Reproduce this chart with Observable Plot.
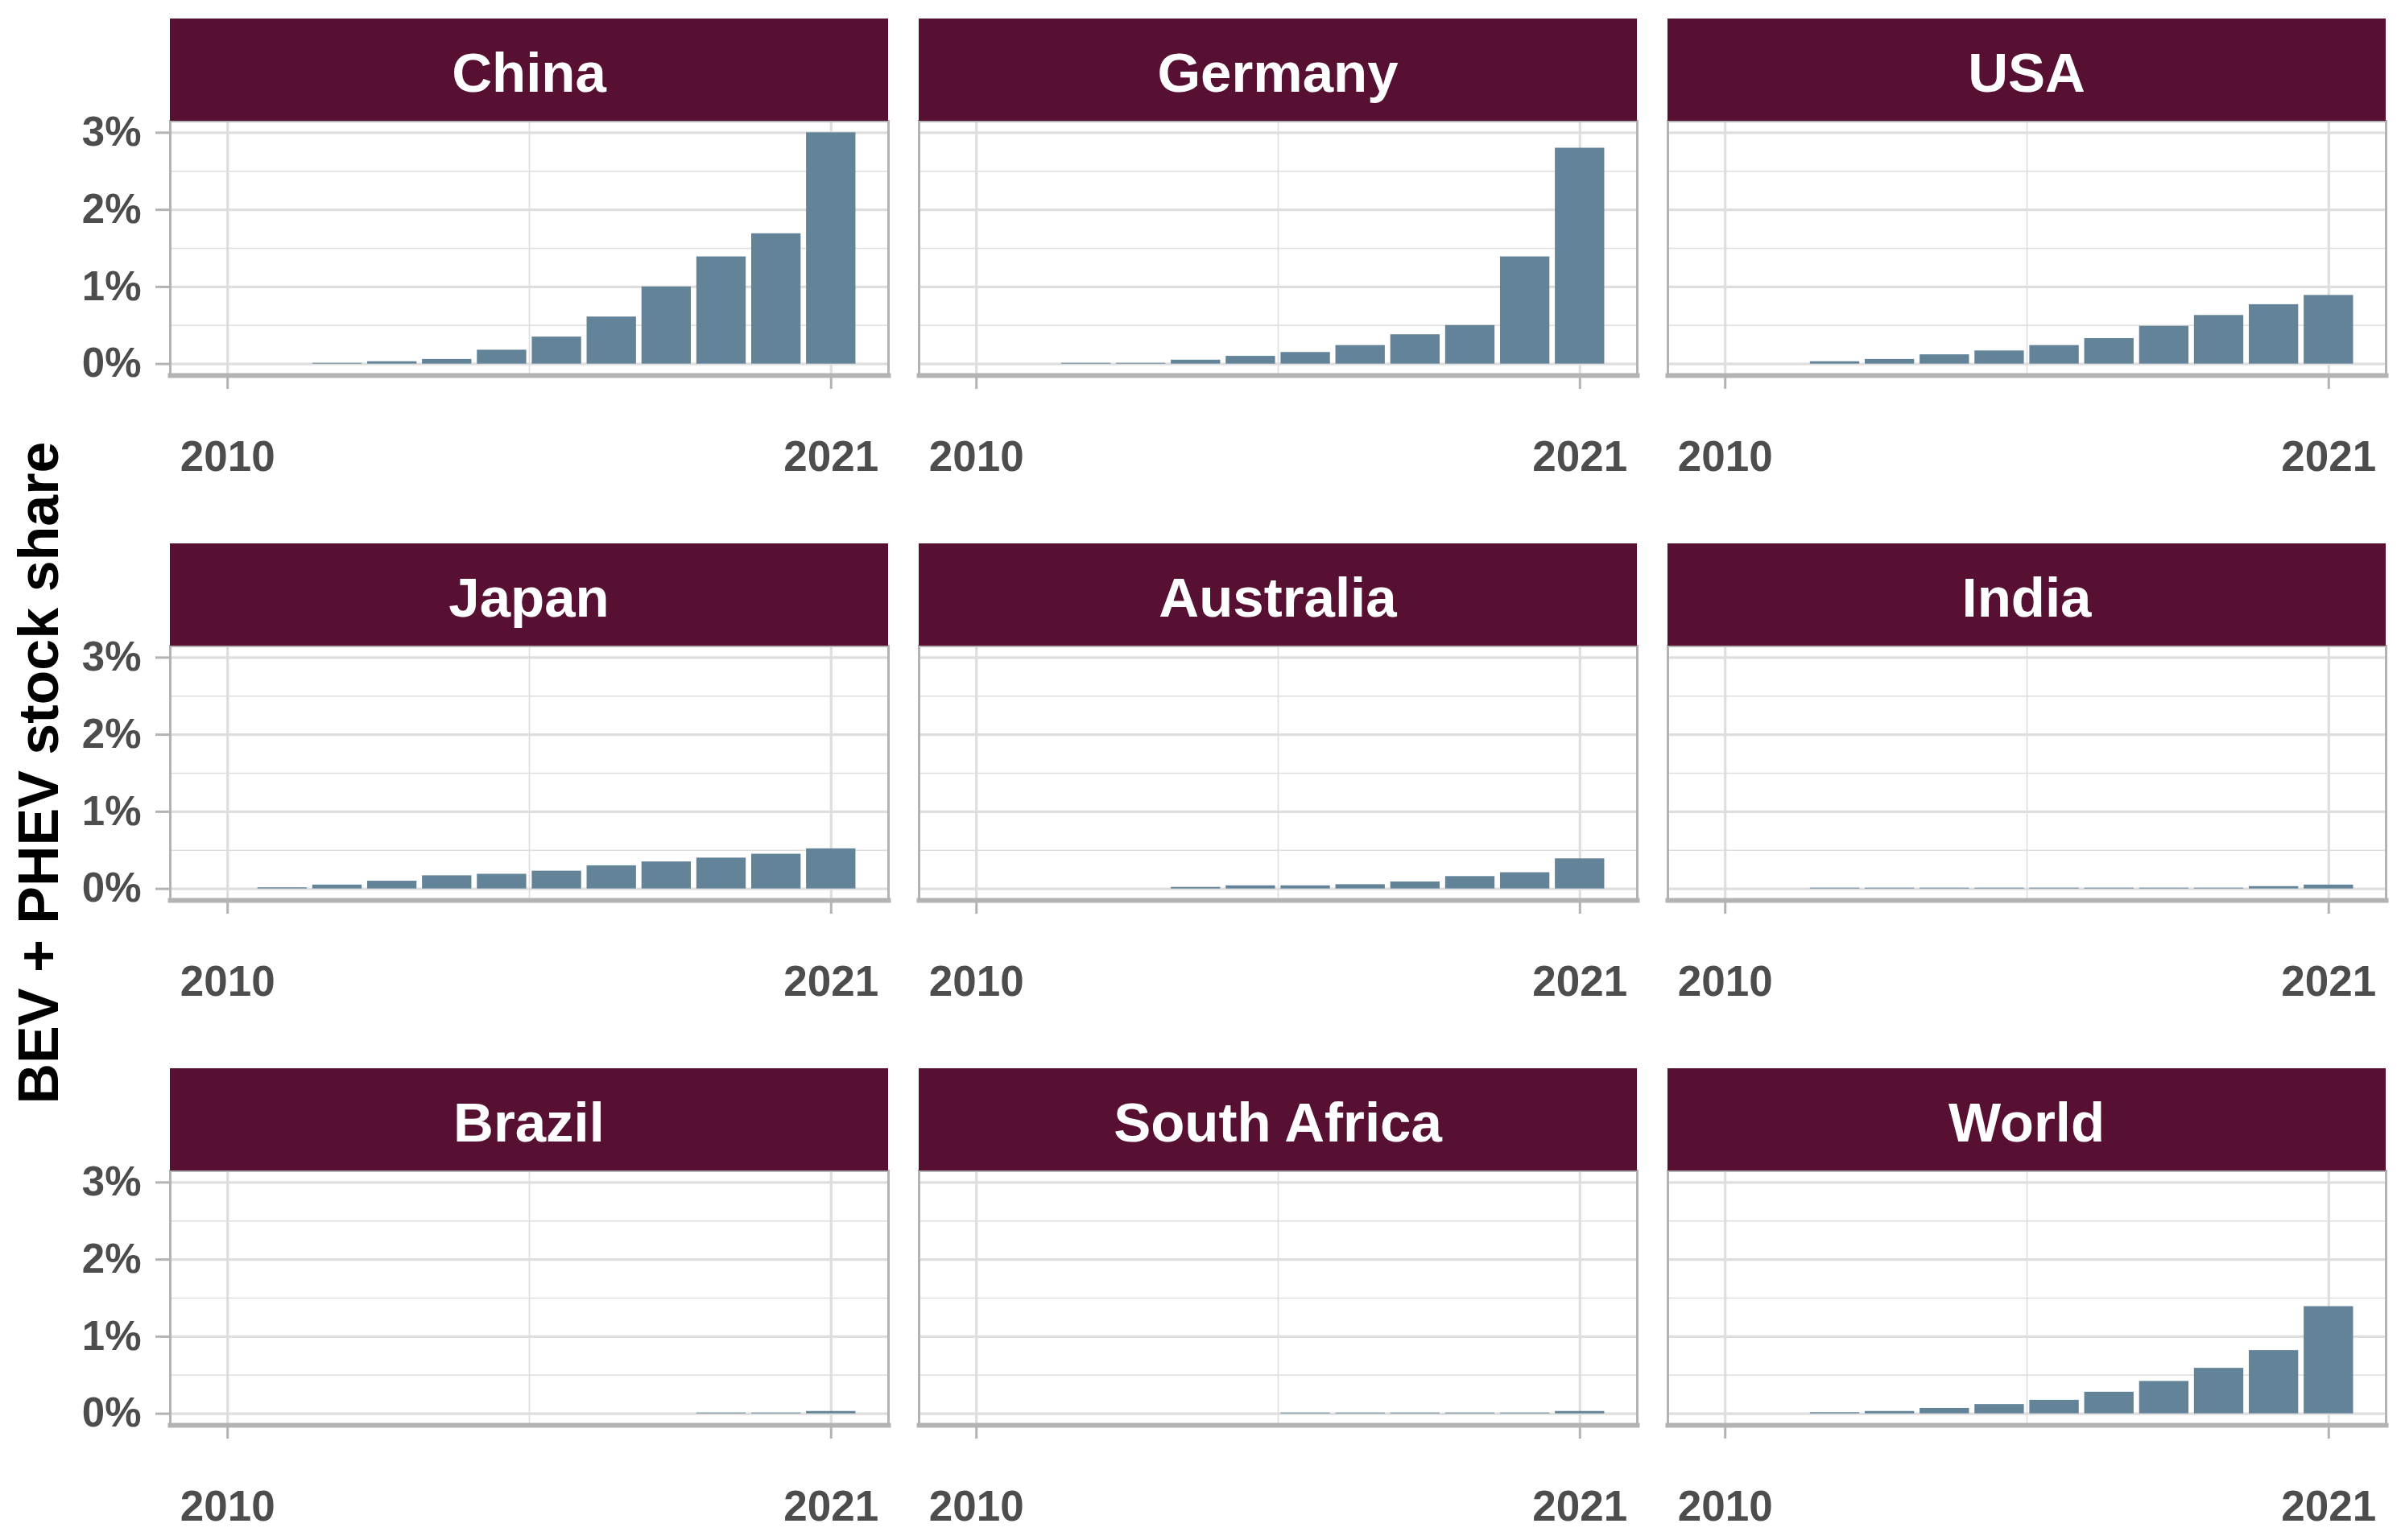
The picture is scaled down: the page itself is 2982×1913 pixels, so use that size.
<!DOCTYPE html>
<html><head><meta charset="utf-8">
<script src="https://cdn.jsdelivr.net/npm/d3@7"></script>
<script src="https://cdn.jsdelivr.net/npm/@observablehq/plot@0.6"></script>
<style>
html,body{margin:0;padding:0;background:#fff;}
#chart{position:relative;width:2982px;height:1913px;font-family:"Liberation Sans",Arial,sans-serif;overflow:hidden;}
.strip{position:absolute;background:#570f32;color:#fff;font-weight:bold;font-size:69px;display:flex;align-items:center;justify-content:center;box-sizing:border-box;padding-top:7px;}
.panel{position:absolute;}
.ytitle{position:absolute;width:1000px;height:70px;line-height:70px;font-size:70px;font-weight:bold;color:#000;text-align:center;transform:rotate(-90deg);transform-origin:50% 50%;white-space:nowrap;}
</style></head><body><div id="chart"></div>
<script>
const years = [2010, 2011, 2012, 2013, 2014, 2015, 2016, 2017, 2018, 2019, 2020, 2021];
const countries = ["China", "Germany", "USA", "Japan", "Australia", "India", "Brazil", "South Africa", "World"];
const china       = [0, 0, 0.01, 0.03, 0.06, 0.18, 0.35, 0.61, 1.00, 1.39, 1.69, 3.00];
const germany     = [0, 0, 0.01, 0.01, 0.05, 0.10, 0.15, 0.24, 0.38, 0.50, 1.39, 2.80];
const usa         = [0, 0, 0.03, 0.06, 0.12, 0.17, 0.24, 0.33, 0.49, 0.63, 0.77, 0.89];
const japan       = [0, 0.014, 0.05, 0.10, 0.17, 0.19, 0.23, 0.30, 0.35, 0.40, 0.45, 0.52];
const australia   = [0, 0, 0, 0, 0.02, 0.04, 0.04, 0.055, 0.09, 0.16, 0.21, 0.39];
const india       = [0, 0, 0.01, 0.01, 0.01, 0.01, 0.01, 0.01, 0.01, 0.01, 0.03, 0.05];
const brazil      = [0, 0, 0, 0, 0, 0, 0, 0, 0, 0.01, 0.01, 0.03];
const southAfrica = [0, 0, 0, 0, 0, 0, 0.01, 0.01, 0.01, 0.01, 0.01, 0.03];
const world       = [0, 0, 0.014, 0.03, 0.07, 0.12, 0.175, 0.28, 0.42, 0.59, 0.82, 1.39];
const seriesValues = [china, germany, usa, japan, australia, india, brazil, southAfrica, world];

const xTicks = [2010, 2021];
const xMinorTicks = [2015.5];
const yTicks = [0, 1, 2, 3];
const yMinorTicks = [0.5, 1.5, 2.5];
const axisTitle = "BEV + PHEV stock share";

const barColor = "#628398";
const gridColor = "#dedede";
const borderColor = "#b3b3b3";
const tickTextColor = "#4d4d4d";
const barWidth = 0.9;

const panelW = 892, panelH = 316, stripH = 127;
const colX = [211, 1141, 2071];
const rowTop = [23, 675, 1327];

// ggplot-like 5% expansion
const xlo = d3.min(years) - barWidth / 2, xhi = d3.max(years) + barWidth / 2;
const xpad = (xhi - xlo) * 0.05;
const ymax = d3.max(seriesValues.flat());
const ypad = ymax * 0.05;

const chart = document.getElementById("chart");

countries.forEach((name, i) => {
  const r = Math.floor(i / 3), c = i % 3;
  const rows = years.map((year, k) => ({year, value: seriesValues[i][k]}));
  const mL = c === 0 ? 211 : 30, mR = 30, mT = 10, mB = 150;
  const marks = [
    Plot.gridY(yMinorTicks, {stroke: gridColor, strokeOpacity: 1, strokeWidth: 1.6}),
    Plot.gridX(xMinorTicks, {stroke: gridColor, strokeOpacity: 1, strokeWidth: 1.6}),
    Plot.gridY(yTicks, {stroke: gridColor, strokeOpacity: 1, strokeWidth: 3.2}),
    Plot.gridX(xTicks, {stroke: gridColor, strokeOpacity: 1, strokeWidth: 3.2}),
    Plot.rectY(rows, {x1: d => d.year - barWidth / 2, x2: d => d.year + barWidth / 2, y: "value", fill: barColor}),
    Plot.frame({stroke: borderColor, strokeWidth: 3}),
    Plot.frame({anchor: "bottom", stroke: borderColor, strokeWidth: 6}),
    Plot.axisX(xTicks, {tickSize: 17, tickPadding: 64, tickFormat: d => String(d), fontSize: 53, fontWeight: "bold", fill: tickTextColor, stroke: borderColor, strokeWidth: 3, label: null})
  ];
  if (c === 0) {
    marks.push(Plot.axisY(yTicks, {tickSize: 18, tickPadding: 18, tickFormat: d => d + "%", fontSize: 51, fontWeight: "bold", fill: tickTextColor, stroke: borderColor, strokeWidth: 3, label: null}));
  }
  const svg = Plot.plot({
    width: mL + panelW + mR,
    height: mT + panelH + mB,
    marginLeft: mL, marginRight: mR, marginTop: mT, marginBottom: mB,
    x: {domain: [xlo - xpad, xhi + xpad], label: null, axis: null},
    y: {domain: [-ypad, ymax + ypad], label: null, axis: null},
    style: {background: "transparent", overflow: "visible", fontFamily: "Liberation Sans, Arial, sans-serif", fontWeight: "bold", maxWidth: "none"},
    marks
  });
  svg.classList.add("panel");
  svg.style.position = "absolute";
  svg.style.left = (colX[c] - mL) + "px";
  svg.style.top = (rowTop[r] + stripH - mT) + "px";
  chart.appendChild(svg);

  const strip = document.createElement("div");
  strip.className = "strip";
  strip.textContent = name;
  strip.style.left = colX[c] + "px";
  strip.style.top = rowTop[r] + "px";
  strip.style.width = panelW + "px";
  strip.style.height = stripH + "px";
  chart.appendChild(strip);
});

const t = document.createElement("div");
t.className = "ytitle";
t.textContent = axisTitle;
t.style.left = (48 - 500) + "px";
t.style.top = (960 - 35) + "px";
chart.appendChild(t);
</script>
</body></html>
